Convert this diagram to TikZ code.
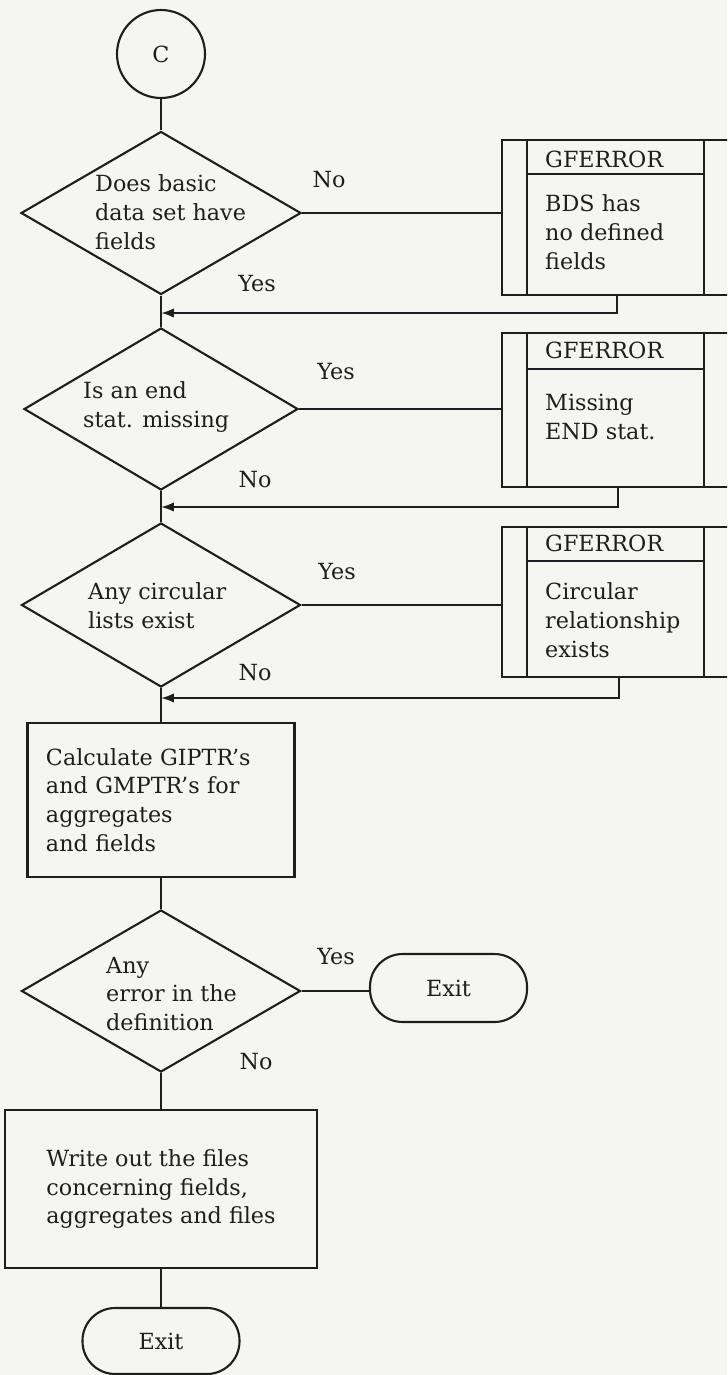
\documentclass[tikz,border=0pt]{standalone}
\usepackage{fontspec}
\setmainfont{DejaVu Serif}
\usepackage{tikz}
\usetikzlibrary{
  arrows.meta,
  positioning,
  shapes.geometric,
  calc
}
\definecolor{paper}{RGB}{245,245,241}
\definecolor{ink}{RGB}{30,30,30}
\newcommand{\flowfont}{\fontsize{19}{24.5}\selectfont}

\tikzset{
  flow/.style={draw=ink, line width=1.8pt},
  decision/.style={flow, diamond, inner sep=0pt},
  process/.style={flow, rectangle, inner sep=0pt},
  terminal/.style={flow, rectangle, rounded corners=0.98cm, inner sep=0pt},
  qtext/.style={anchor=west, align=left, inner sep=0pt, text=ink},
  lbl/.style={inner sep=0pt, text=ink},
  back/.style={flow, -{Latex[length=11pt, width=8pt]}}
}

\begin{document}
\begin{tikzpicture}[x=0.03cm, y=-0.03cm, every node/.style={font=\flowfont}]
  \clip (0,0) rectangle (727,1375);
  \fill[paper] (0,0) rectangle (727,1375);

  % Entry connector
  \node[flow, circle, minimum size=2.64cm, inner sep=0pt, text=ink] (c) at (161,54) {C};

  % Question 1 (centre column, x = 161)
  \node[decision, minimum width=8.4cm, minimum height=4.89cm] (q1) at (161,213) {};
  \node[qtext] (q1t) at (95,212) {Does basic\\data set have\\fields};

  % Question 2
  \node[decision, minimum width=8.22cm, minimum height=4.86cm] (q2) at (161,409) {};
  \node[qtext] (q2t) at (83,407) {Is an end\\stat. missing};

  % Question 3
  \node[decision, minimum width=8.37cm, minimum height=4.92cm] (q3) at (161,605) {};
  \node[qtext] (q3t) at (88,606) {Any circular\\lists exist};

  % Calculation box
  \node[process, minimum width=8.01cm, minimum height=4.62cm, text width=6.9cm, align=left, text=ink] (calc) at (161,800)
    {Calculate GIPTR's\\and GMPTR's for\\aggregates\\and fields};

  % Question 4 and its exit
  \node[decision, minimum width=8.37cm, minimum height=4.86cm] (q4) at (161,991) {};
  \node[qtext] (q4t) at (106,994) {Any\\error in the\\definition};
  \node[terminal, minimum width=4.71cm, minimum height=2.04cm, text=ink] (ex1) at (448.5,988) {Exit};

  % Write box and final exit
  \node[process, minimum width=9.36cm, minimum height=4.74cm, align=left, text=ink] (write) at (161,1189)
    {Write out the files\\concerning fields,\\aggregates and files};
  \node[terminal, minimum width=4.71cm, minimum height=1.98cm, text=ink] (ex2) at (161,1341) {Exit};

  % GFERROR call boxes (right edge runs off the page)
  \node[process, minimum width=7.14cm, minimum height=4.65cm] (err1) at (621,217.5) {};
  \draw[flow] ($(err1.north west)+(26,0)$) -- ($(err1.south west)+(26,0)$)
              ($(err1.north west)+(203,0)$) -- ($(err1.south west)+(203,0)$)
              ($(err1.north west)+(26,35)$) -- ($(err1.north west)+(203,35)$);
  \node[qtext] (err1h) at (545,159) {GFERROR};
  \node[qtext] (err1b) at (545,232) {BDS has\\no defined\\fields};

  \node[process, minimum width=7.14cm, minimum height=4.62cm] (err2) at (621,410) {};
  \draw[flow] ($(err2.north west)+(26,0)$) -- ($(err2.south west)+(26,0)$)
              ($(err2.north west)+(203,0)$) -- ($(err2.south west)+(203,0)$)
              ($(err2.north west)+(26,37)$) -- ($(err2.north west)+(203,37)$);
  \node[qtext] (err2h) at (545,350) {GFERROR};
  \node[qtext] (err2b) at (545,417) {Missing\\END stat.};

  \node[process, minimum width=7.14cm, minimum height=4.5cm] (err3) at (621,602) {};
  \draw[flow] ($(err3.north west)+(26,0)$) -- ($(err3.south west)+(26,0)$)
              ($(err3.north west)+(203,0)$) -- ($(err3.south west)+(203,0)$)
              ($(err3.north west)+(26,35)$) -- ($(err3.north west)+(203,35)$);
  \node[qtext] (err3h) at (545,543) {GFERROR};
  \node[qtext] (err3b) at (545,620) {Circular\\relationship\\exists};

  % Branch labels
  \node[lbl] (q1no) at (329,180) {No};
  \node[lbl] (q1yes) at (257,284) {Yes};
  \node[lbl] (q2yes) at (336,372) {Yes};
  \node[lbl] (q2no) at (255,480) {No};
  \node[lbl] (q3yes) at (337,572) {Yes};
  \node[lbl] (q3no) at (255,673) {No};
  \node[lbl] (q4yes) at (336,957) {Yes};
  \node[lbl] (q4no) at (256,1062) {No};

  % Join points on the main line
  \coordinate (r1) at ($(err1.south)+(-4,0)$);
  \coordinate (r2) at ($(err2.south)+(-3,0)$);
  \coordinate (r3) at ($(err3.south)+(-2,0)$);
  \coordinate (j1) at (161,313);
  \coordinate (j2) at (161,507);
  \coordinate (j3) at (161,698);

  % Main line
  \draw[flow] (c) -- (q1);
  \draw[flow] (q1.south) -- (q2.north);
  \draw[flow] (q2.south) -- (q3.north);
  \draw[flow] (q3.south) -- (calc.north);
  \draw[flow] (calc.south) -- (q4.north);
  \draw[flow] (q4.south) -- (write.north);
  \draw[flow] (write.south) -- (ex2.north);

  % Side branches
  \draw[flow] (q1.east) -- (q1.east -| err1.west);
  \draw[flow] (q2.east) -- (q2.east -| err2.west);
  \draw[flow] (q3.east) -- (q3.east -| err3.west);
  \draw[flow] (q4.east) -- (q4.east -| ex1.west);

  % Returns from the error calls
  \draw[back] (r1) |- (j1);
  \draw[back] (r2) |- (j2);
  \draw[back] (r3) |- (j3);
\end{tikzpicture}
\end{document}
